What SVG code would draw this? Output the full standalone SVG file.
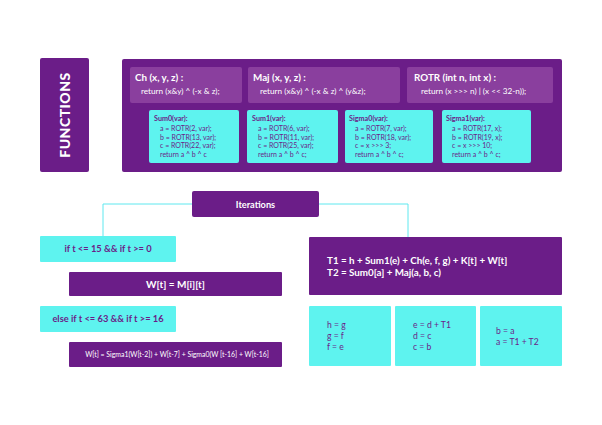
<svg xmlns="http://www.w3.org/2000/svg" width="602" height="425" viewBox="0 0 602 425">
<style>
.pu{fill:#6b1d88}
.lp{fill:#8a3f9e}
.cy{fill:#5ef3ef}
text{font-family:Lato,"Liberation Sans",sans-serif}
.w{fill:#ffffff}
.p{fill:#6b1d88}
.h{font-size:9.8px;font-weight:bold}
.r{font-size:8.2px}
.sh{font-size:7.2px;font-weight:bold}
.s{font-size:7px}
.c{text-anchor:middle}
.u{font-size:8.6px}
.conn{fill:none;stroke:#5ee8ef;stroke-width:1}
</style>
<rect width="602" height="425" fill="#ffffff"/>
<g id="connectors">
<path class="conn" d="M192,204 H103 V236"/>
<path class="conn" d="M319,204 H408 V237"/>
</g>
<g id="functions-label">
<rect class="pu" x="40" y="58" width="49" height="114" rx="2"/>
<text class="w c" transform="translate(70,115) rotate(-90)" font-size="14" font-weight="900" letter-spacing="0.5">FUNCTIONS</text>
</g>
<g id="functions">
<rect class="pu" x="122" y="59" width="440" height="113" rx="2"/>
</g>
<g id="ch">
<rect class="lp" x="130" y="67" width="112" height="36" rx="2"/>
<text class="w h" x="135" y="81">Ch (x, y, z) :</text>
<text class="w r" x="141" y="94">return (x&amp;y) ^ (-x &amp; z);</text>
</g>
<g id="maj">
<rect class="lp" x="248" y="67" width="152" height="36" rx="2"/>
<text class="w h" x="253" y="81">Maj (x, y, z) :</text>
<text class="w r" x="260" y="94">return (x&amp;y) ^ (-x &amp; z) ^ (y&amp;z);</text>
</g>
<g id="rotr">
<rect class="lp" x="407" y="67" width="146" height="36" rx="2"/>
<text class="w h" x="414" y="81">ROTR (int n, int x) :</text>
<text class="w r" x="421" y="94">return (x &gt;&gt;&gt; n) | (x &lt;&lt; 32-n));</text>
</g>
<g id="sum0">
<rect class="cy" x="149" y="110" width="90" height="53" rx="2"/>
<text class="p sh" x="154" y="121">Sum0(var):</text>
<text class="p s" x="160" y="131">a = ROTR(2, var);</text>
<text class="p s" x="160" y="139.5">b = ROTR(13, var);</text>
<text class="p s" x="160" y="148">c = ROTR(22, var);</text>
<text class="p s" x="160" y="156.5">return a ^ b ^ c</text>
</g>
<g id="sum1">
<rect class="cy" x="247" y="110" width="91" height="53" rx="2"/>
<text class="p sh" x="252" y="121">Sum1(var):</text>
<text class="p s" x="258" y="131">a = ROTR(6, var);</text>
<text class="p s" x="258" y="139.5">b = ROTR(11, var);</text>
<text class="p s" x="258" y="148">c = ROTR(25, var);</text>
<text class="p s" x="258" y="156.5">return a ^ b ^ c;</text>
</g>
<g id="sigma0">
<rect class="cy" x="345" y="110" width="88" height="53" rx="2"/>
<text class="p sh" x="349" y="121">Sigma0(var):</text>
<text class="p s" x="355" y="131">a = ROTR(7, var);</text>
<text class="p s" x="355" y="139.5">b = ROTR(18, var);</text>
<text class="p s" x="355" y="148">c = x &gt;&gt;&gt; 3;</text>
<text class="p s" x="355" y="156.5">return a ^ b ^ c;</text>
</g>
<g id="sigma1">
<rect class="cy" x="442" y="110" width="89" height="53" rx="2"/>
<text class="p sh" x="446" y="121">Sigma1(var):</text>
<text class="p s" x="452" y="131">a = ROTR(17, x);</text>
<text class="p s" x="452" y="139.5">b = ROTR(19, x);</text>
<text class="p s" x="452" y="148">c = x &gt;&gt;&gt; 10;</text>
<text class="p s" x="452" y="156.5">return a ^ b ^ c;</text>
</g>
<g id="iterations">
<rect class="pu" x="192" y="191" width="127" height="26" rx="2"/>
<text class="w c" x="255.5" y="207.5" font-size="9.2" font-weight="bold">Iterations</text>
</g>
<g id="cond1">
<rect class="cy" x="40" y="236" width="136" height="26" rx="1"/>
<text class="p c" x="108" y="252" font-size="9.3" font-weight="bold">if t &lt;= 15 &amp;&amp; if t &gt;= 0</text>
</g>
<g id="w1">
<rect class="pu" x="69" y="272" width="213" height="24" rx="1"/>
<text class="w c" x="175.5" y="287.5" font-size="10" font-weight="bold">W[t] = M[i][t]</text>
</g>
<g id="cond2">
<rect class="cy" x="40" y="306" width="136" height="26" rx="1"/>
<text class="p c" x="108" y="322" font-size="9.3" font-weight="bold">else if t &lt;= 63 &amp;&amp; if t &gt;= 16</text>
</g>
<g id="w2">
<rect class="pu" x="69" y="342" width="213" height="25" rx="1"/>
<text class="w c" x="177" y="357" font-size="6.9">W[t] = Sigma1(W[t-2]) + W[t-7] + Sigma0(W [t-16] + W[t-16]</text>
</g>
<g id="temps">
<rect class="pu" x="309" y="237" width="253" height="58" rx="1"/>
<text class="w" x="327" y="264" font-size="9.8" font-weight="bold">T1 = h + Sum1(e) + Ch(e, f, g) + K[t] + W[t]</text>
<text class="w" x="327" y="276" font-size="9.8" font-weight="bold">T2 = Sum0[a] + Maj(a, b, c)</text>
</g>
<g id="upd1">
<rect class="cy" x="309" y="306" width="82" height="60" rx="1"/>
<text class="p u" x="327" y="328">h = g</text>
<text class="p u" x="327" y="339">g = f</text>
<text class="p u" x="327" y="350">f = e</text>
</g>
<g id="upd2">
<rect class="cy" x="395" y="306" width="81" height="60" rx="1"/>
<text class="p u" x="413" y="328">e = d + T1</text>
<text class="p u" x="413" y="339">d = c</text>
<text class="p u" x="413" y="350">c = b</text>
</g>
<g id="upd3">
<rect class="cy" x="480" y="306" width="82" height="60" rx="1"/>
<text class="p u" x="496" y="334">b = a</text>
<text class="p u" x="496" y="345">a = T1 + T2</text>
</g>
</svg>
